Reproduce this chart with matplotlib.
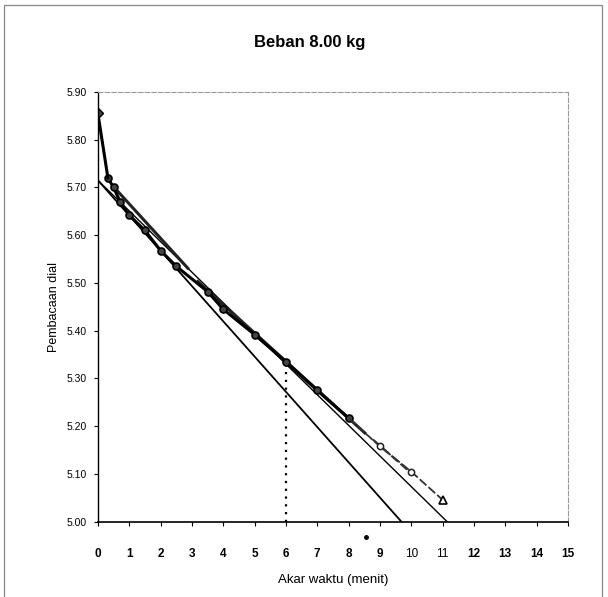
import matplotlib.pyplot as plt
from matplotlib.patches import Rectangle

plt.rcParams['font.family'] = ['Liberation Sans', 'DejaVu Sans']

# data pembacaan dial (akar waktu dalam menit)
akar_waktu = [0, 0.32, 0.5, 0.71, 1.0, 1.5, 2.0, 2.5, 3.5, 4.0, 5.0, 6.0, 7.0, 8.0, 9.0, 10.0, 11.0]
bacaan = [5.855, 5.72, 5.70, 5.67, 5.642, 5.61, 5.568, 5.535, 5.482, 5.445, 5.392, 5.335, 5.275,
          5.217, 5.158, 5.105, 5.046]
n_tebal = 14  # titik sampai x = 8 digambar tebal

# potongan garis tebal di atas data
seg1_x = [0.48, 2.87]
seg1_y = [5.703, 5.531]
seg2_x = [3.19, 8.52]
seg2_y = [5.503, 5.186]
seg3_x = [8.78, 10.05]
seg3_y = [5.172, 5.099]

# garis lurus awal dan garis 1.15x
garis_awal_x = [0, 9.69]
garis_awal_y = [5.715, 5.00]
garis_115_x = [0, 11.15]
garis_115_y = [5.715, 5.00]

# garis t90
t90_x = [6, 6]
t90_y = [5.00, 5.335]

# titik kecil di bawah sumbu
titik_x = [8.55]
titik_y = [4.968]

x_ticks = list(range(0, 16))
y_ticks = [5.00, 5.10, 5.20, 5.30, 5.40, 5.50, 5.60, 5.70, 5.80, 5.90]

fig = plt.figure(figsize=(6.08, 5.97), dpi=100)
ax = fig.add_axes([0.161, 0.126, 0.773, 0.72])

ax.plot(garis_awal_x, garis_awal_y, color='black', lw=1.3)
ax.plot(garis_115_x, garis_115_y, color='black', lw=1.0)
ax.plot(t90_x, t90_y, color='black', lw=1.6, linestyle=(0, (1, 2.5)))

ax.plot(seg1_x, seg1_y, color='#222222', lw=2.2)
ax.plot(seg2_x, seg2_y, color='#222222', lw=2.2)
ax.plot(seg3_x, seg3_y, color='#333333', lw=1.6, linestyle=(0, (4, 1.5)))

# bagian awal data: tebal
ax.plot(akar_waktu[1:n_tebal], bacaan[1:n_tebal], color='black', lw=2.2, marker='o', ms=5,
        mfc='#444444', mec='black', mew=1.2)
ax.plot(akar_waktu[:2], bacaan[:2], color='black', lw=2.2)
# bagian akhir data: lebih tipis
ax.plot(akar_waktu[n_tebal - 1:], bacaan[n_tebal - 1:], color='#333333', lw=1.3,
        linestyle=(0, (5, 1.5)))
ax.plot(akar_waktu[n_tebal:-1], bacaan[n_tebal:-1], 'o', ms=4.5, mfc='white', mec='#222222', mew=1.1)
ax.plot(akar_waktu[-1:], bacaan[-1:], marker='^', ms=6, mfc='white', mec='black', mew=1.2)
ax.plot(akar_waktu[:1], bacaan[:1], marker='D', ms=5.5, mfc='#444444', mec='black')

ax.plot(titik_x, titik_y, 'o', color='black', ms=2.5, clip_on=False)

ax.set_xlim(0, 15)
ax.set_ylim(5.00, 5.90)
ax.set_xticks(x_ticks)
ax.set_yticks(y_ticks)
ax.set_yticklabels([f"{v:.2f}" for v in y_ticks], fontsize=7.5)
ax.set_xticklabels([str(v) for v in x_ticks], fontsize=8.5)
for lab in ax.get_xticklabels():
    if lab.get_text() not in ("10", "11"):
        lab.set_fontweight('bold')

ax.tick_params(axis='y', direction='out', length=3, pad=5)
ax.tick_params(axis='x', direction='out', length=3, pad=16)

ax.spines['left'].set_linewidth(1.0)
ax.spines['bottom'].set_linewidth(1.2)
for s in ('top', 'right'):
    ax.spines[s].set_color('#999999')
    ax.spines[s].set_linewidth(0.8)
    ax.spines[s].set_linestyle((0, (4, 2)))

ax.set_xlabel("Akar waktu (menit)", fontsize=9.5, labelpad=10)
ax.set_ylabel("Pembacaan dial", fontsize=9, labelpad=5)

fig.text(0.51, 0.928, "Beban 8.00 kg", ha='center', va='center', fontsize=12, fontweight='bold')

# bingkai luar grafik
fig.patches.append(Rectangle((0.006, -0.05), 0.984, 1.042, transform=fig.transFigure,
                             fill=False, edgecolor='#888888', lw=0.9))

fig.savefig("out.png", dpi=100)
